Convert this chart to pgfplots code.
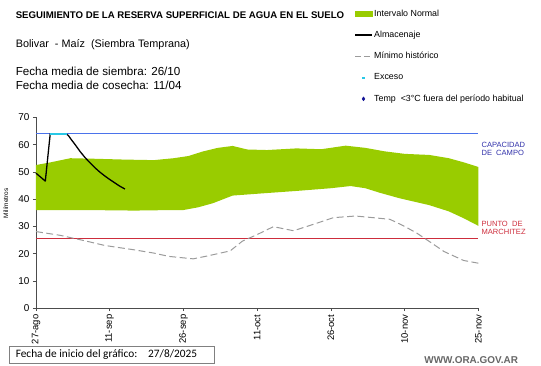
\documentclass[border=0pt]{standalone}
\usepackage{pgfplots}
\pgfplotsset{compat=1.18}
\usepgfplotslibrary{fillbetween}
\usepackage{fontspec}
\setmainfont{Liberation Sans}
\newfontfamily\carlito{Carlito}
\definecolor{bandgreen}{RGB}{153,204,0}
\definecolor{capblue}{RGB}{75,115,235}
\definecolor{caplabel}{RGB}{50,50,170}
\definecolor{wiltred}{RGB}{205,45,60}
\definecolor{mingray}{RGB}{155,155,155}
\definecolor{exceso}{RGB}{40,200,230}
\definecolor{tempblue}{RGB}{20,20,150}
\begin{document}
\begin{tikzpicture}
\path (0,0) rectangle (541pt,368pt);
\begin{axis}[
  at={(33pt,58pt)}, anchor=south west,
  scale only axis, width=445pt, height=192pt,
  xmin=0, xmax=90, ymin=0, ymax=70,
  xtick={0,15,...,90},
  xticklabels={27-ago,11-sep,26-sep,11-oct,26-oct,10-nov,25-nov},
  x tick label style={rotate=90, anchor=east, font=\fontsize{9.5}{10}\selectfont},
  ytick={0,10,...,70},
  y tick label style={font=\fontsize{10}{11}\selectfont},
  /pgf/number format/assume math mode=true,
  axis x line*=bottom, axis y line*=left,
  axis line style={black!70, line width=0.8pt},
  tick style={black!70, line width=0.6pt},
  tick align=outside, major tick length=3pt,
  ylabel={Milímetros}, ylabel style={font=\fontsize{6.5}{7}\selectfont, at={(axis description cs:-0.055,0.55)}},
  legend style={at={(axis description cs:0.717,1.58)}, anchor=north west, draw=none, fill=none,
    font=\fontsize{8.9}{10}\selectfont, row sep=9.5pt, legend cell align=left,
    inner sep=1pt, nodes={inner xsep=1.5pt}},
  clip=false,
]
\addlegendimage{legend image code/.code={\fill[bandgreen] (0cm,-0.08cm) rectangle (0.62cm,0.08cm);}}
\addlegendentry{Intervalo Normal}
\addlegendimage{black, line width=1.3pt}
\addlegendentry{Almacenaje}
\addlegendimage{mingray, line width=1pt, dash pattern=on 6pt off 3pt}
\addlegendentry{Mínimo histórico}
\addlegendimage{only marks, mark=square*, mark size=0.9pt, exceso}
\addlegendentry{Exceso}
\addlegendimage{only marks, mark=diamond*, mark size=2pt, tempblue}
\addlegendentry{Temp\ \ <3°C\ fuera\ del\ período\ habitual}

\addplot[name path=upper, draw=none, forget plot] coordinates {
(0,52.5) (3,53.5) (7,55.0) (12,54.8) (18,54.5) (24,54.3) (28,55.0) (31,55.8) (34,57.5)
(37,58.8) (40,59.5) (43,58.2) (47,58.0) (53,58.6) (58,58.3) (63,59.6) (67,58.8) (71,57.5)
(75,56.6) (80,56.2) (84,55.0) (87,53.5) (90,51.8)};
\addplot[name path=lower, draw=none, forget plot] coordinates {
(0,36) (10,36) (20,35.8) (28,36) (30,36) (33,37) (36,38.5) (40,41.3) (46,42.1) (53,43)
(60,44) (64,44.8) (67,44) (70,42.3) (74,40.3) (80,37.8) (84,35.5) (87,33) (90,30.2)};
\addplot[bandgreen, forget plot] fill between[of=upper and lower];

\addplot[draw=capblue, line width=0.9pt, forget plot] coordinates {(0,64) (90,64)};
\addplot[draw=wiltred, line width=0.9pt, forget plot] coordinates {(0,25.4) (90,25.4)};

\addplot[mingray, line width=1pt, dash pattern=on 7pt off 3.5pt, forget plot] coordinates {
(0,28.1) (5,26.7) (10,24.7) (14,23.0) (20,21.4) (24,20.2) (27,19.0) (32,18.1) (35,19.2)
(39.5,21.0) (42,24.6) (45,27.0) (48.3,29.9) (52.4,28.4) (56,30.5) (60.5,33.2) (65,33.8)
(68,33.3) (72,32.6) (75,30) (77.5,27.5) (80,24.5) (83,20.8) (87,17.5) (90,16.5)};

\addplot[black, line width=1.3pt, forget plot, line join=round] coordinates {
(0,49.5) (1,48) (1.9,46.6) (2.9,64) (6.1,64) (6.6,63.3) (7.2,61.8) (8,59.9) (9,57.4)
(10,55.2) (11,53.3) (12,51.5) (13,49.9) (14,48.5) (15,47.2) (16,46.0) (17,44.8) (18.1,43.7)};

\addplot[only marks, mark=square*, mark size=0.9pt, exceso, forget plot] coordinates {
(3.1,64) (3.7,64) (4.3,64) (4.9,64) (5.5,64) (6.0,64)};
\end{axis}

\node[anchor=west, inner sep=0pt, font=\bfseries\fontsize{9.7}{10}\selectfont] at (12.5pt,353pt)
  {SEGUIMIENTO DE LA RESERVA SUPERFICIAL DE AGUA EN EL SUELO};
\node[anchor=west, inner sep=0pt, font=\fontsize{10.9}{12}\selectfont] at (12.5pt,323pt)
  {Bolivar\ \ - Maíz\ \ (Siembra Temprana)};
\node[anchor=west, inner sep=0pt, font=\fontsize{11.7}{12}\selectfont] at (12.5pt,296pt)
  {Fecha media de siembra: 26/10};
\node[anchor=west, inner sep=0pt, font=\fontsize{11.7}{12}\selectfont] at (12.5pt,282pt)
  {Fecha media de cosecha: 11/04};

\node[anchor=west, inner sep=0pt, text=caplabel, font=\fontsize{7.6}{8.5}\selectfont, align=left] at (481pt,218.5pt)
  {CAPACIDAD\\DE\ \ CAMPO};
\node[anchor=west, inner sep=0pt, text=wiltred, font=\fontsize{7.6}{8.5}\selectfont, align=left] at (481pt,139pt)
  {PUNTO\ \ DE\\MARCHITEZ};

\draw[black!50, line width=0.8pt] (6pt,2pt) rectangle (212pt,20pt);
\node[anchor=west, inner sep=0pt, font=\carlito\fontsize{11.4}{12}\selectfont] at (12.5pt,11pt)
  {Fecha de inicio del gráfico:\hspace{11pt}27/8/2025};
\node[anchor=east, inner sep=0pt, text=black!60, font=\bfseries\fontsize{10}{10}\selectfont] at (518pt,6pt)
  {WWW.ORA.GOV.AR};
\end{tikzpicture}
\end{document}
